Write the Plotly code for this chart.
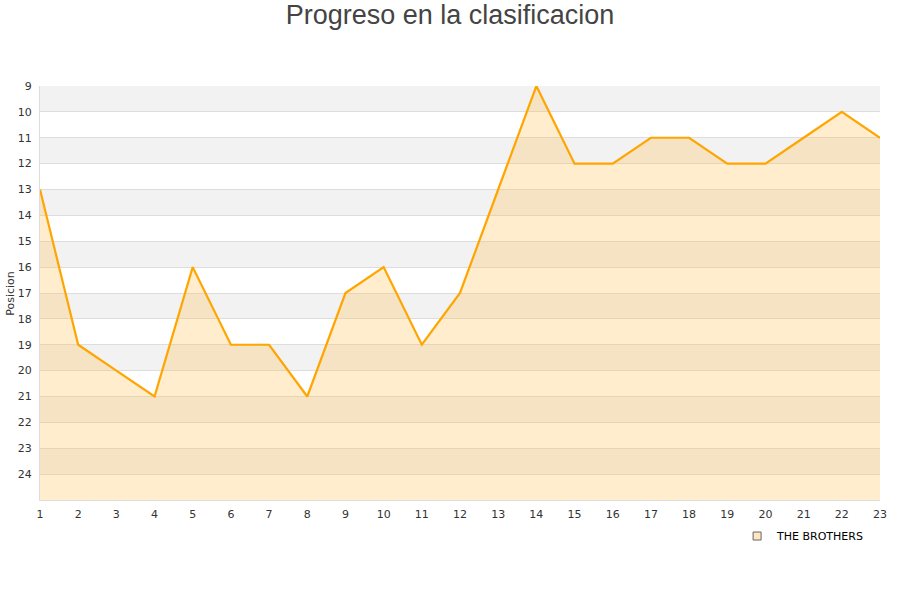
import plotly.graph_objects as go

jornadas = list(range(1, 24))
posicion = [13, 19, 20, 21, 16, 19, 19, 21, 17, 16, 19, 17, 13, 9, 12, 12, 11, 11, 12, 12, 11, 10, 11]
equipo = "THE BROTHERS"
y_ticks = list(range(9, 25))
fondo = 25

fig = go.Figure()

# base line at the bottom of the reversed axis, so the fill goes down
fig.add_trace(go.Scatter(
    x=jornadas, y=[fondo] * len(jornadas), mode="lines",
    line=dict(width=0), hoverinfo="skip", showlegend=False
))
fig.add_trace(go.Scatter(
    x=jornadas, y=posicion, mode="lines", fill="tonexty",
    fillcolor="rgba(255,190,80,0.28)",
    line=dict(color="#FFA500", width=2.2),
    name=equipo, showlegend=False
))
# legend entry with a little square
fig.add_trace(go.Scatter(
    x=[None], y=[None], mode="markers", name=equipo,
    marker=dict(symbol="square", size=8, color="#FFE6C2",
                line=dict(color="#666666", width=1))
))

# alternating grey bands
shapes = []
for v in y_ticks[::2]:
    shapes.append(dict(type="rect", xref="paper", yref="y", x0=0, x1=1,
                       y0=v, y1=v + 1, fillcolor="#F2F2F2",
                       line=dict(width=0), layer="below"))

fig.update_layout(
    width=900, height=600,
    paper_bgcolor="white", plot_bgcolor="white",
    shapes=shapes,
    title=dict(text="Progreso en la clasificacion", x=0.5, xanchor="center",
               y=0.975, yanchor="middle",
               font=dict(family="Liberation Sans, Arial", size=27, color="#444444")),
    font=dict(family="DejaVu Sans", size=11, color="#333333"),
    margin=dict(l=40, r=20, t=86, b=100),
    legend=dict(orientation="h", x=0.987, xanchor="right", y=-0.087, yanchor="middle",
                font=dict(size=11, color="#000000"), bgcolor="rgba(0,0,0,0)"),
    showlegend=True,
    annotations=[dict(text="Posicion", xref="paper", yref="paper",
                      x=-0.036, y=0.5, textangle=-90, showarrow=False,
                      xanchor="center", yanchor="middle",
                      font=dict(size=11, color="#333333"))],
)

fig.update_xaxes(range=[1, 23], tickmode="array", tickvals=jornadas,
                 showgrid=False, zeroline=False, showline=True,
                 linecolor="#DDDDDD", linewidth=1, ticks="", ticklabelstandoff=4,
                 tickfont=dict(size=11, color="#333333"))
fig.update_yaxes(range=[fondo, 9], tickmode="array", tickvals=y_ticks,
                 showgrid=True, gridcolor="#DDDDDD", gridwidth=1, zeroline=False,
                 showline=True, linecolor="#DDDDDD", linewidth=1, ticks="", ticklabelstandoff=5,
                 tickfont=dict(size=11, color="#333333"))

# drop the default body margin so the figure sits at the page corner
fig.write_html("out.html", config={"displayModeBar": False},
               post_script="document.body.style.margin='0px';")
